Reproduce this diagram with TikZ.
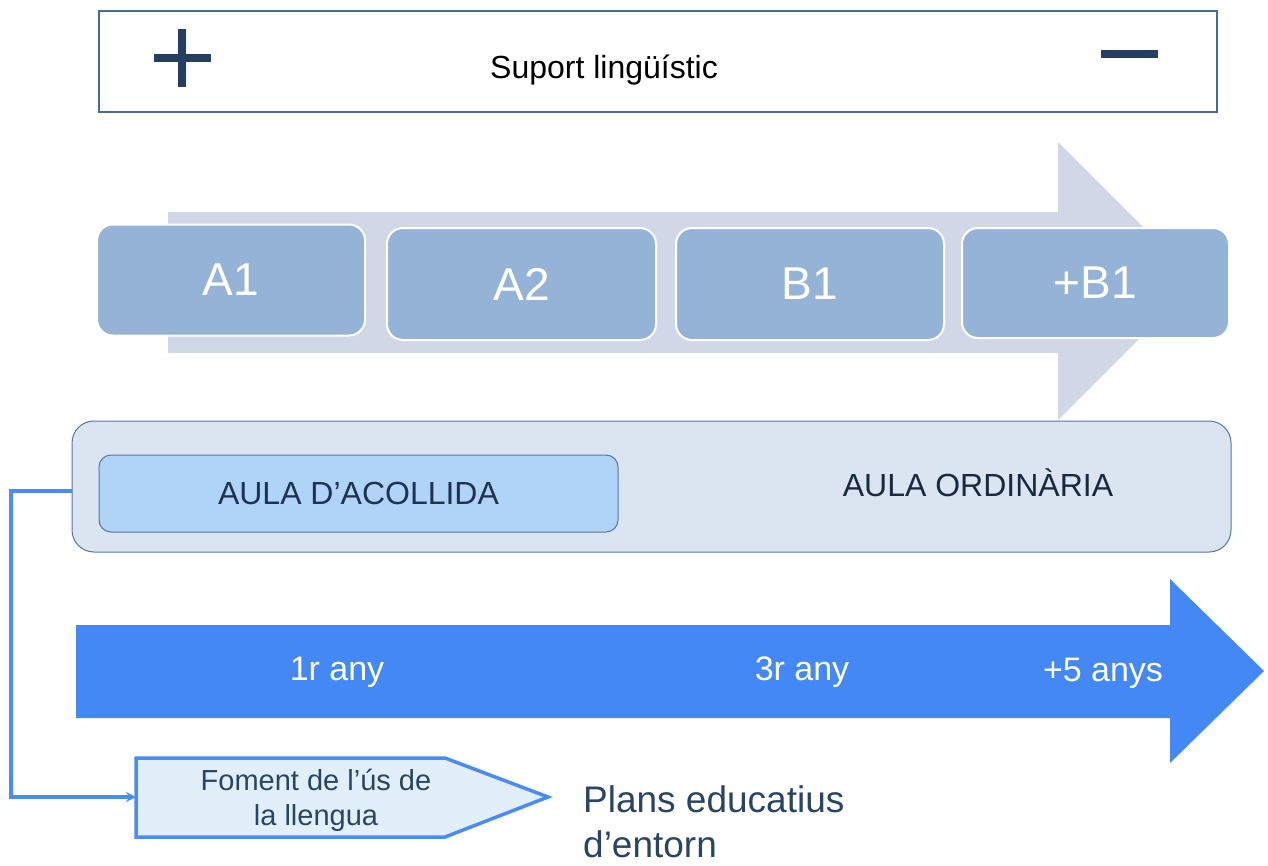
\documentclass[tikz,border=0pt]{standalone}
\usepackage{fontspec}
\setmainfont{Liberation Sans}
\usetikzlibrary{arrows.meta}
\definecolor{frame}{HTML}{4A6A96}
\definecolor{navy}{HTML}{243F60}
\definecolor{arrowlight}{HTML}{D0D8E8}
\definecolor{boxblue}{HTML}{95B3D7}
\definecolor{aulabg}{HTML}{DBE5F1}
\definecolor{aulaframe}{HTML}{5677A0}
\definecolor{acollida}{HTML}{B0D4F8}
\definecolor{connblue}{HTML}{4A8CF7}
\definecolor{bigblue}{HTML}{4388F5}
\definecolor{pentfill}{HTML}{E1EFFB}
\definecolor{darktext}{HTML}{1F3350}
\definecolor{slatetext}{HTML}{2A4464}
\begin{document}
\begin{tikzpicture}[x=1pt,y=-1pt,
  lvl/.style={rounded corners=16pt, fill=boxblue, draw=white, line width=2pt,
    text=white, minimum width=268pt, minimum height=111pt, inner sep=0pt,
    font=\fontsize{46}{52}\selectfont},
  yeartext/.style={text=white, anchor=base, inner sep=0pt, font=\fontsize{34}{40}\selectfont},
  conn/.style={draw=connblue, line width=3.5pt},
]
\useasboundingbox (0,0) rectangle (1268,865);

% top box
\node[draw=frame, line width=2pt, minimum width=1118pt, minimum height=101pt, inner sep=0pt] (top) at (658,61.5) {};
\fill[navy] (154,54) rectangle (211,62);
\fill[navy] (178,29) rectangle (186,87);
\fill[navy] (1101,50) rectangle (1158,58);
\node[anchor=base, inner sep=0pt, font=\fontsize{32}{38}\selectfont] (suport) at (604,78) {Suport lingüístic};

% light arrow
\fill[arrowlight] (168,212) -- (1058,212) -- (1058,142) -- (1197,281) -- (1058,420) -- (1058,353) -- (168,353) -- cycle;

% level boxes
\node[lvl] (a1) at (231,280) {A1};
\node[lvl, minimum width=269pt, minimum height=112pt] (a2) at (521.5,284) {A2};
\node[lvl, minimum height=112pt] (b1) at (810,284) {B1};
\node[lvl, minimum width=267pt, minimum height=110pt] (pb1) at (1095.5,283) {+B1};

% aula box
\node[rounded corners=22pt, fill=aulabg, draw=aulaframe, line width=1pt, minimum width=1159pt, minimum height=131pt, inner sep=0pt] (aula) at (651.5,486.5) {};
\node[rounded corners=12pt, fill=acollida, draw=aulaframe, line width=1pt, minimum width=519pt, minimum height=77pt, inner sep=0pt, text=darktext, font=\fontsize{32}{38}\selectfont] (acol) at (358.5,493.5) {AULA D’ACOLLIDA};
\node[inner sep=0pt, text=darktext!80!black, font=\fontsize{32}{38}\selectfont] (ord) at (978,483) {AULA ORDINÀRIA};

% big blue arrow
\fill[bigblue] (76,625) -- (1170,625) -- (1170,579) -- (1264,671) -- (1170,763) -- (1170,718) -- (76,718) -- cycle;
\node[yeartext] (y1) at (337,680) {1r any};
\node[yeartext] (y3) at (802,680) {3r any};
\node[yeartext] (y5) at (1103,681) {+5 anys};

% pentagon
\filldraw[fill=pentfill, draw=connblue, line width=3.5pt, line join=miter] (136,758) -- (445,758) -- (548,797) -- (445,837) -- (136,837) -- cycle;
\coordinate (fomw) at (136,797);
\node[align=center, inner sep=0pt, text=slatetext, font=\fontsize{29}{35}\selectfont] (fom) at (316,800) {Foment de l’ús de\\la llengua};

% connector
\coordinate (corner) at (11,491);
\draw[conn, -{Stealth[length=10pt,width=10pt]}] ([yshift=-4.5pt]aula.west) -- (corner) |- (fomw);

% plans text
\node[anchor=north west, align=left, inner sep=0pt, text=slatetext, font=\fontsize{37}{45}\selectfont] (plans) at (583,785) {Plans educatius\\d’entorn};
\end{tikzpicture}
\end{document}
